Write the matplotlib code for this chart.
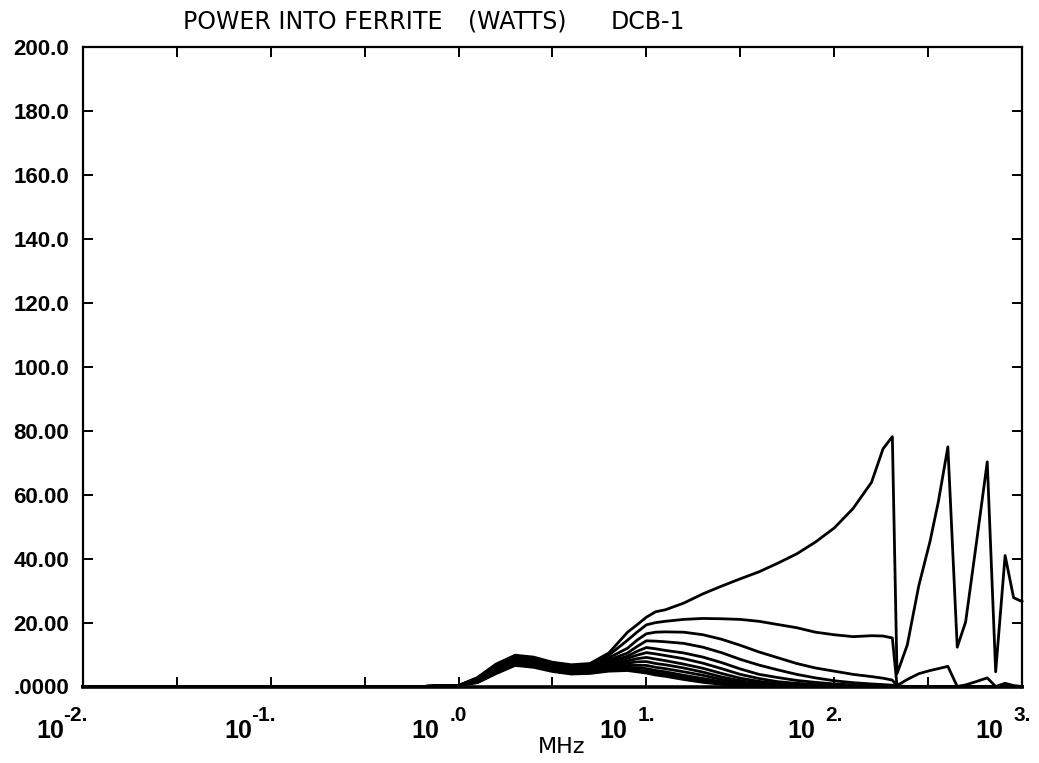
import matplotlib
matplotlib.use("Agg")
import matplotlib.pyplot as plt
from matplotlib.ticker import NullLocator

# frequency points (MHz)
freq = [0.01, 0.1, 0.63, 1.0, 1.26, 1.58, 2.0, 2.51, 3.16, 3.98, 5.01,
        6.31, 7.94, 8.91, 10.0, 11.2, 12.6,
        15.8, 20.0, 25.1, 31.6, 39.8, 50.1, 63.1, 79.4, 100, 126, 158,
        182, 204, 216,
        245, 282, 324, 359, 403, 452, 501, 575, 653, 724, 813, 902, 1000]

# power into ferrite (watts), one list per curve
p01 = [0, 0, 0, 0.3, 2.8, 7.0, 9.8, 9.2, 7.6, 6.8, 7.2,
       10.5, 17.0, 19.3, 21.7, 23.4, 24.0,
       26.1, 29.0, 31.4, 33.7, 35.9, 38.6, 41.5, 45.2, 49.6, 55.7, 63.9,
       74.4, 78.2, 4.0,
       13.0, 31.5, 45.5, 58.0, 75.0, 12.3, 20.2, 46.0, 70.3, 4.6, 41.0, 27.8, 26.6]
p02 = [0, 0, 0, 0.3, 2.7, 6.7, 9.5, 8.9, 7.3, 6.5, 6.9,
       9.8, 14.5, 17.0, 19.3, 20.0, 20.4,
       21.0, 21.3, 21.2, 21.0, 20.4, 19.4, 18.4, 17.0, 16.2, 15.6, 15.9,
       15.8, 15.2, 0.3,
       2.2, 4.0, 5.0, 5.6, 6.3, 0, 0.5, 1.6, 2.7, 0, 1.0, 0.3, 0]
p03 = [0, 0, 0, 0.3, 2.5, 6.5, 9.2, 8.6, 7.1, 6.2, 6.6,
       9.0, 12.0, 14.5, 16.5, 17.0, 17.1,
       17.0, 16.2, 14.8, 12.9, 10.8, 9.0, 7.2, 5.8, 4.8, 3.8, 3.1,
       2.6, 2.0, 0.2,
       0, 0, 0, 0, 0, 0, 0, 0, 0, 0, 0, 0, 0]
p04 = [0, 0, 0, 0.3, 2.4, 6.2, 8.9, 8.3, 6.8, 5.9, 6.2,
       8.3, 10.5, 12.5, 14.3, 14.2, 14.0,
       13.5, 12.3, 10.6, 8.5, 6.7, 5.2, 3.8, 2.7, 1.8, 1.2, 0.8,
       0.6, 0.4, 0.1,
       0, 0, 0, 0, 0, 0, 0, 0, 0, 0, 0, 0, 0]
p05 = [0, 0, 0, 0.3, 2.2, 5.9, 8.6, 8.0, 6.5, 5.6, 5.9,
       7.8, 9.5, 11.0, 12.2, 11.8, 11.3,
       10.5, 9.2, 7.5, 5.5, 3.8, 2.8, 1.9, 1.3, 0.8, 0.5, 0.3,
       0.2, 0.1, 0,
       0, 0, 0, 0, 0, 0, 0, 0, 0, 0, 0, 0, 0]
p06 = [0, 0, 0, 0.3, 2.1, 5.6, 8.3, 7.7, 6.2, 5.3, 5.6,
       7.3, 8.8, 9.8, 10.6, 10.2, 9.7,
       8.7, 7.3, 5.6, 3.8, 2.5, 1.5, 1.0, 0.6, 0.4, 0.2, 0.1,
       0.1, 0, 0,
       0, 0, 0, 0, 0, 0, 0, 0, 0, 0, 0, 0, 0]
p07 = [0, 0, 0, 0.3, 1.9, 5.4, 8.1, 7.5, 6.0, 5.1, 5.3,
       6.8, 8.0, 8.7, 9.1, 8.6, 8.1,
       7.0, 5.7, 4.1, 2.6, 1.6, 0.9, 0.5, 0.3, 0.2, 0.1, 0.1,
       0, 0, 0,
       0, 0, 0, 0, 0, 0, 0, 0, 0, 0, 0, 0, 0]
p08 = [0, 0, 0, 0.3, 1.8, 5.1, 7.8, 7.2, 5.7, 4.8, 5.0,
       6.3, 7.3, 7.7, 7.8, 7.2, 6.8,
       5.8, 4.5, 3.0, 1.8, 1.0, 0.6, 0.3, 0.2, 0.1, 0.1, 0,
       0, 0, 0,
       0, 0, 0, 0, 0, 0, 0, 0, 0, 0, 0, 0, 0]
p09 = [0, 0, 0, 0.3, 1.6, 4.8, 7.5, 6.9, 5.4, 4.5, 4.7,
       5.9, 6.6, 6.6, 6.6, 6.0, 5.6,
       4.6, 3.5, 2.2, 1.2, 0.7, 0.4, 0.2, 0.1, 0.1, 0, 0,
       0, 0, 0,
       0, 0, 0, 0, 0, 0, 0, 0, 0, 0, 0, 0, 0]
p10 = [0, 0, 0, 0.3, 1.5, 4.5, 7.2, 6.6, 5.1, 4.3, 4.5,
       5.5, 6.0, 5.8, 5.6, 5.0, 4.6,
       3.5, 2.5, 1.5, 0.8, 0.4, 0.2, 0.1, 0, 0, 0, 0,
       0, 0, 0,
       0, 0, 0, 0, 0, 0, 0, 0, 0, 0, 0, 0, 0]
p11 = [0, 0, 0, 0.3, 1.3, 4.3, 6.9, 6.3, 4.9, 4.1, 4.3,
       5.1, 5.4, 5.1, 4.8, 4.3, 3.9,
       2.8, 1.9, 1.0, 0.5, 0.3, 0.1, 0, 0, 0, 0, 0,
       0, 0, 0,
       0, 0, 0, 0, 0, 0, 0, 0, 0, 0, 0, 0, 0]
p12 = [0, 0, 0, 0.3, 1.2, 4.0, 6.6, 6.0, 4.7, 3.9, 4.1,
       4.8, 5.0, 4.6, 4.2, 3.6, 3.2,
       2.2, 1.3, 0.7, 0.3, 0.2, 0.1, 0, 0, 0, 0, 0,
       0, 0, 0,
       0, 0, 0, 0, 0, 0, 0, 0, 0, 0, 0, 0, 0]
curves = [p01, p02, p03, p04, p05, p06, p07, p08, p09, p10, p11, p12]

# axis ticks and labels
x_ticks = [0.0316, 0.1, 0.316, 1, 3.16, 10, 31.6, 100, 316]
x_decades = [0.01, 0.1, 1, 10, 100, 1000]
x_exponents = ["-2.", "-1.", ".0", "1.", "2.", "3."]
y_ticks = [0, 20, 40, 60, 80, 100, 120, 140, 160, 180, 200]
y_labels = [".0000", "20.00", "40.00", "60.00", "80.00", "100.0",
            "120.0", "140.0", "160.0", "180.0", "200.0"]

W, H = 1039, 763
num_font = ["Liberation Sans", "DejaVu Sans"]
txt_font = ["DejaVu Sans"]

fig = plt.figure(figsize=(W / 100, H / 100), dpi=100)
ax = fig.add_axes([83 / W, 1 - 686.5 / H, 939 / W, 639 / H])

for vals in curves:
    ax.plot(freq, vals, color="black", lw=2.0, clip_on=False)

ax.set_xscale("log")
ax.set_xlim(0.01, 1000)
ax.set_ylim(0, 200)
ax.set_xticks(x_ticks)
ax.xaxis.set_minor_locator(NullLocator())
ax.set_xticklabels([])
ax.set_yticks(y_ticks)
ax.set_yticklabels(y_labels, family=num_font, fontweight="bold", fontsize=16)
ax.tick_params(direction="in", length=7.5, width=1.4, top=True, right=True,
               pad=10)
for sp in ax.spines.values():
    sp.set_linewidth(1.6)
ax.spines["bottom"].set_linewidth(2.6)

# decade labels drawn as "10" plus raised exponent
for xv, ex in zip(x_decades, x_exponents):
    ax.annotate("10", xy=(xv, 0), xycoords=("data", "axes fraction"),
                xytext=(-19, -44), textcoords="offset pixels",
                ha="right", va="center", fontsize=18, fontweight="bold",
                family=num_font)
    dx = -20 if ex.startswith("-") else -9
    ax.annotate(ex, xy=(xv, 0), xycoords=("data", "axes fraction"),
                xytext=(dx, -29), textcoords="offset pixels",
                ha="left", va="center", fontsize=15, fontweight="bold",
                family=num_font)

fig.text(562 / W, 1 - 747 / H, "MHz", ha="center", va="center",
         fontsize=16, family=txt_font)

fig.text(183 / W, 1 - 22 / H, "POWER INTO FERRITE", ha="left", va="center",
         fontsize=17, family=txt_font)
fig.text(468 / W, 1 - 22 / H, "(WATTS)", ha="left", va="center",
         fontsize=17, family=txt_font)
fig.text(611 / W, 1 - 22 / H, "DCB-1", ha="left", va="center",
         fontsize=17, family=txt_font)

fig.savefig("out.png", dpi=100)
